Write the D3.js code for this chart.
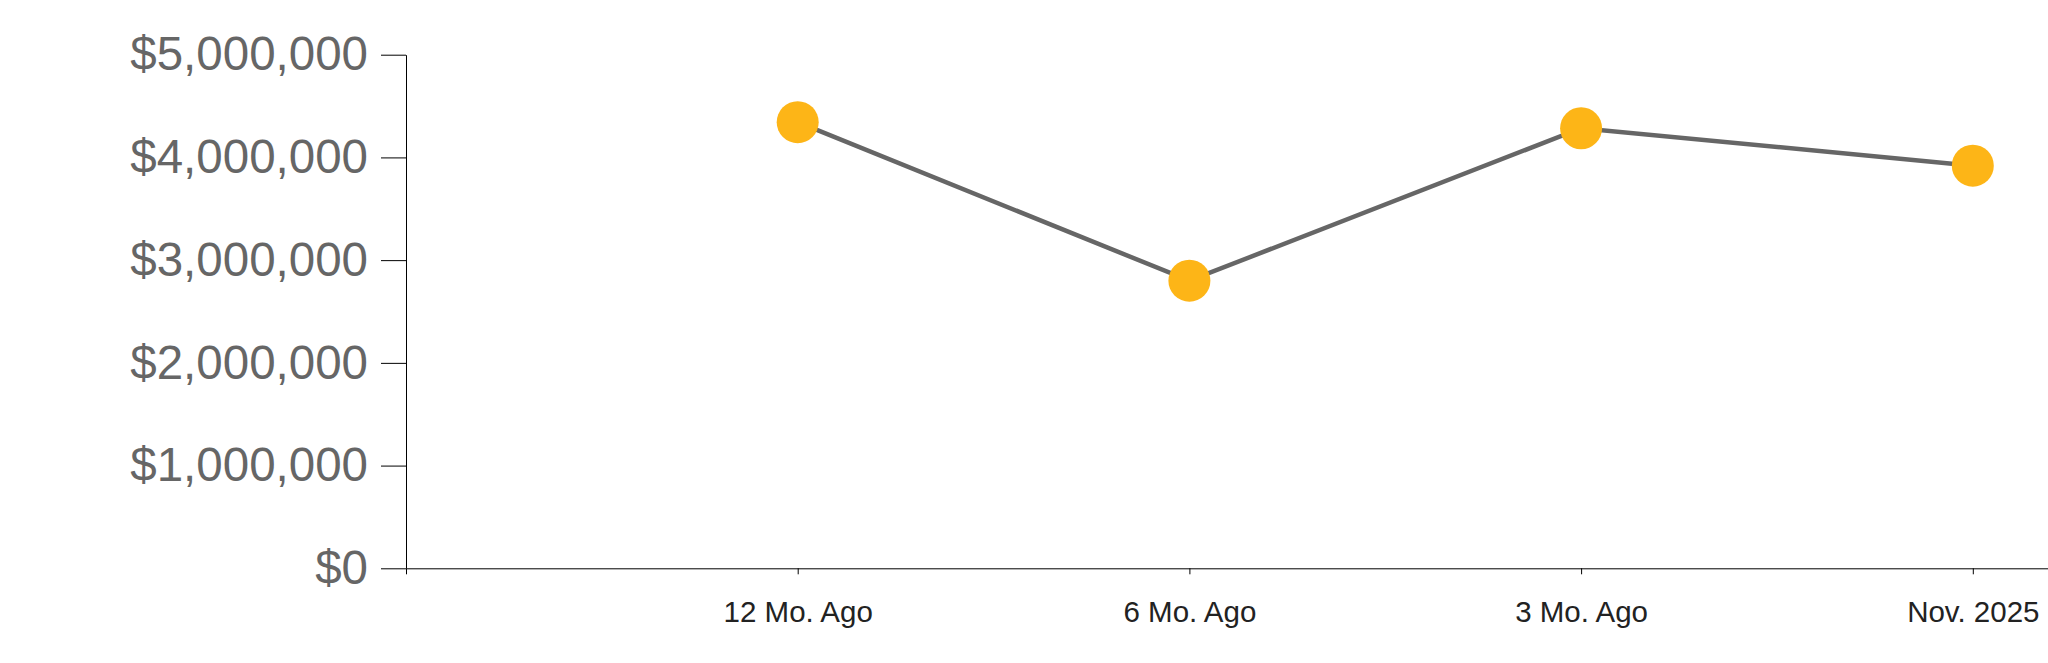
<!DOCTYPE html>
<html>
<head>
<meta charset="utf-8">
<script src="https://cdn.jsdelivr.net/npm/d3@7"></script>
<style>
  html, body { margin: 0; padding: 0; background: #fff; }
  svg { display: block; }
</style>
</head>
<body>
<svg id="chart" width="2048" height="663"></svg>
<script>
const categories = ["12 Mo. Ago", "6 Mo. Ago", "3 Mo. Ago", "Nov. 2025"];
const values = [4343000, 2800000, 4284000, 3920000];
const yTicks = [0, 1000000, 2000000, 3000000, 4000000, 5000000];

const svg = d3.select("#chart");
const plotLeft = 406, plotTop = 54.7, plotBottom = 568.3;
const step = 391.7;

// point scale with a leading and trailing blank slot so the axis runs off the right edge
const slots = ["__start", ...categories, "__end"];
const x = d3.scalePoint().domain(slots).range([plotLeft, plotLeft + step * (slots.length - 1)]);
const y = d3.scaleLinear().domain([0, 5000000]).range([plotBottom, plotTop]);

const fmt = d3.format("$,.0f");

const yAxis = svg.append("g")
  .attr("transform", `translate(${plotLeft},0)`)
  .call(d3.axisLeft(y).tickValues(yTicks).tickFormat(fmt).tickSize(25).tickSizeOuter(0).tickPadding(13));
yAxis.selectAll("text")
  .attr("fill", "#666")
  .style("font-family", "'Liberation Sans', Arial, sans-serif")
  .style("font-size", "47.5px");
yAxis.selectAll("line,path").attr("stroke", "#000");

const xAxis = svg.append("g")
  .attr("transform", `translate(0,${plotBottom})`)
  .call(d3.axisBottom(x).tickValues(categories).tickSize(6).tickSizeOuter(6).tickPadding(27));
xAxis.selectAll("text")
  .attr("fill", "#222")
  .style("font-family", "'Liberation Sans', Arial, sans-serif")
  .style("font-size", "29.5px");
xAxis.selectAll("line,path").attr("stroke", "#000");

const data = categories.map((c, i) => ({ c, v: values[i] }));

svg.append("path")
  .datum(data)
  .attr("fill", "none")
  .attr("stroke", "#666")
  .attr("stroke-width", 4.5)
  .attr("d", d3.line().x(d => x(d.c)).y(d => y(d.v)));

svg.selectAll("circle.pt")
  .data(data)
  .join("circle")
  .attr("class", "pt")
  .attr("cx", d => x(d.c))
  .attr("cy", d => y(d.v))
  .attr("r", 21)
  .attr("fill", "#FDB517");
</script>
</body>
</html>
